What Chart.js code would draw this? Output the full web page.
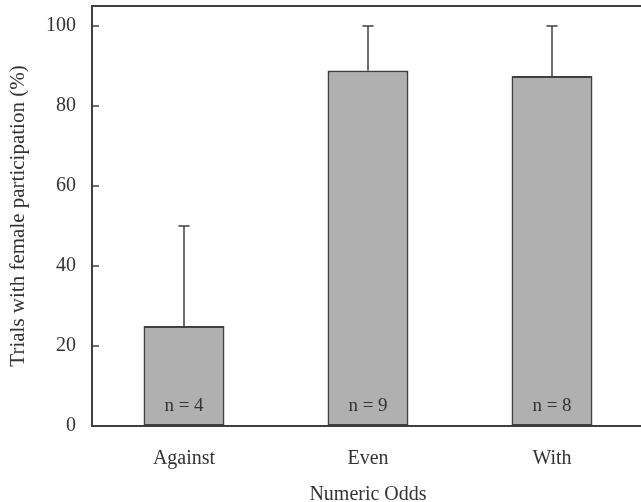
<!DOCTYPE html>
<html>
<head>
<meta charset="utf-8">
<script src="https://cdn.jsdelivr.net/npm/chart.js@4"></script>
<style>
  html, body { margin: 0; padding: 0; background: #fff; overflow: hidden; }
  #wrap { width: 650px; height: 502px; }
</style>
</head>
<body>
<div id="wrap"><canvas id="myChart" width="650" height="502"></canvas></div>
<script>
/* data */
var odds = ['Against', 'Even', 'With'];
var femaleTrials = [25, 88.9, 87.5];
var errorTop = [50, 100, 100];
var sampleSize = [4, 9, 8];
var yTicks = [0, 20, 40, 60, 80, 100];

var serif = '"Liberation Serif", "DejaVu Serif", serif';
var ink = '#3f3f3f';

/* foutbalken, n labels en kader */
var extras = {
    id: 'extras',
    afterDatasetsDraw: function(chart) {
        var c = chart.ctx;
        var x = chart.scales.x;
        var y = chart.scales.y;
        var area = chart.chartArea;
        c.save();
        c.strokeStyle = ink;
        c.lineWidth = 1.5;

        // error bars (upper only)
        for (var i = 0; i < odds.length; i++) {
            var px = x.getPixelForValue(i);
            var top = y.getPixelForValue(femaleTrials[i]);
            var err = y.getPixelForValue(errorTop[i]);
            c.beginPath();
            c.moveTo(px, top);
            c.lineTo(px, err);
            c.moveTo(px - 5.5, err);
            c.lineTo(px + 5.5, err);
            c.stroke();
        }

        // top line of the box
        c.lineWidth = 2;
        c.beginPath();
        c.moveTo(area.left, area.top);
        c.lineTo(area.right + 10, area.top);
        c.stroke();

        // inward y ticks
        c.lineWidth = 1.5;
        yTicks.forEach(function(t) {
            var py = y.getPixelForValue(t);
            c.beginPath();
            c.moveTo(area.left, py);
            c.lineTo(area.left + 7, py);
            c.stroke();
        });

        // n = labels
        c.fillStyle = '#333';
        c.font = '19px ' + serif;
        c.textAlign = 'center';
        c.textBaseline = 'middle';
        for (var j = 0; j < odds.length; j++) {
            c.fillText('n = ' + sampleSize[j], x.getPixelForValue(j), y.getPixelForValue(0) - 20);
        }
        c.restore();
    }
};

var ctx = document.getElementById('myChart');

var myChart = new Chart(ctx, {
    type: 'bar',
    data: {
        labels: odds,
        datasets: [{
            data: femaleTrials,
            backgroundColor: '#b0b0b0',
            borderColor: ink,
            borderWidth: 2,
            borderSkipped: false,
            barPercentage: 0.44,
            categoryPercentage: 1
        }]
    },
    options: {
        responsive: false,
        animation: false,
        layout: { padding: { top: 6, right: 6, left: 0, bottom: 0 } },
        plugins: {
            legend: { display: false },
            tooltip: { enabled: false }
        },
        scales: {
            x: {
                grid: { display: false, drawTicks: false },
                border: { display: true, color: ink, width: 2 },
                ticks: { color: '#333', font: { family: serif, size: 20 }, padding: 21 },
                title: {
                    display: true,
                    text: 'Numeric Odds',
                    color: '#333',
                    font: { family: serif, size: 20 },
                    padding: { top: 12, bottom: -5 }
                },
                afterFit: function(scale) { scale.height = 76; }
            },
            y: {
                min: 0,
                max: 105,
                afterBuildTicks: function(scale) {
                    scale.ticks = yTicks.map(function(v) { return { value: v }; });
                },
                grid: { display: false, drawTicks: false },
                border: { display: true, color: ink, width: 2 },
                ticks: { color: '#333', font: { family: serif, size: 20 }, padding: 16 },
                title: {
                    display: true,
                    text: 'Trials with female participation (%)',
                    color: '#333',
                    font: { family: serif, size: 21 },
                    padding: { top: 6, bottom: 0 }
                },
                afterFit: function(scale) {
                    scale.width = 92;
                    scale.paddingTop = 0;
                    scale.paddingBottom = 0;
                }
            }
        }
    },
    plugins: [extras]
});
</script>
</body>
</html>
